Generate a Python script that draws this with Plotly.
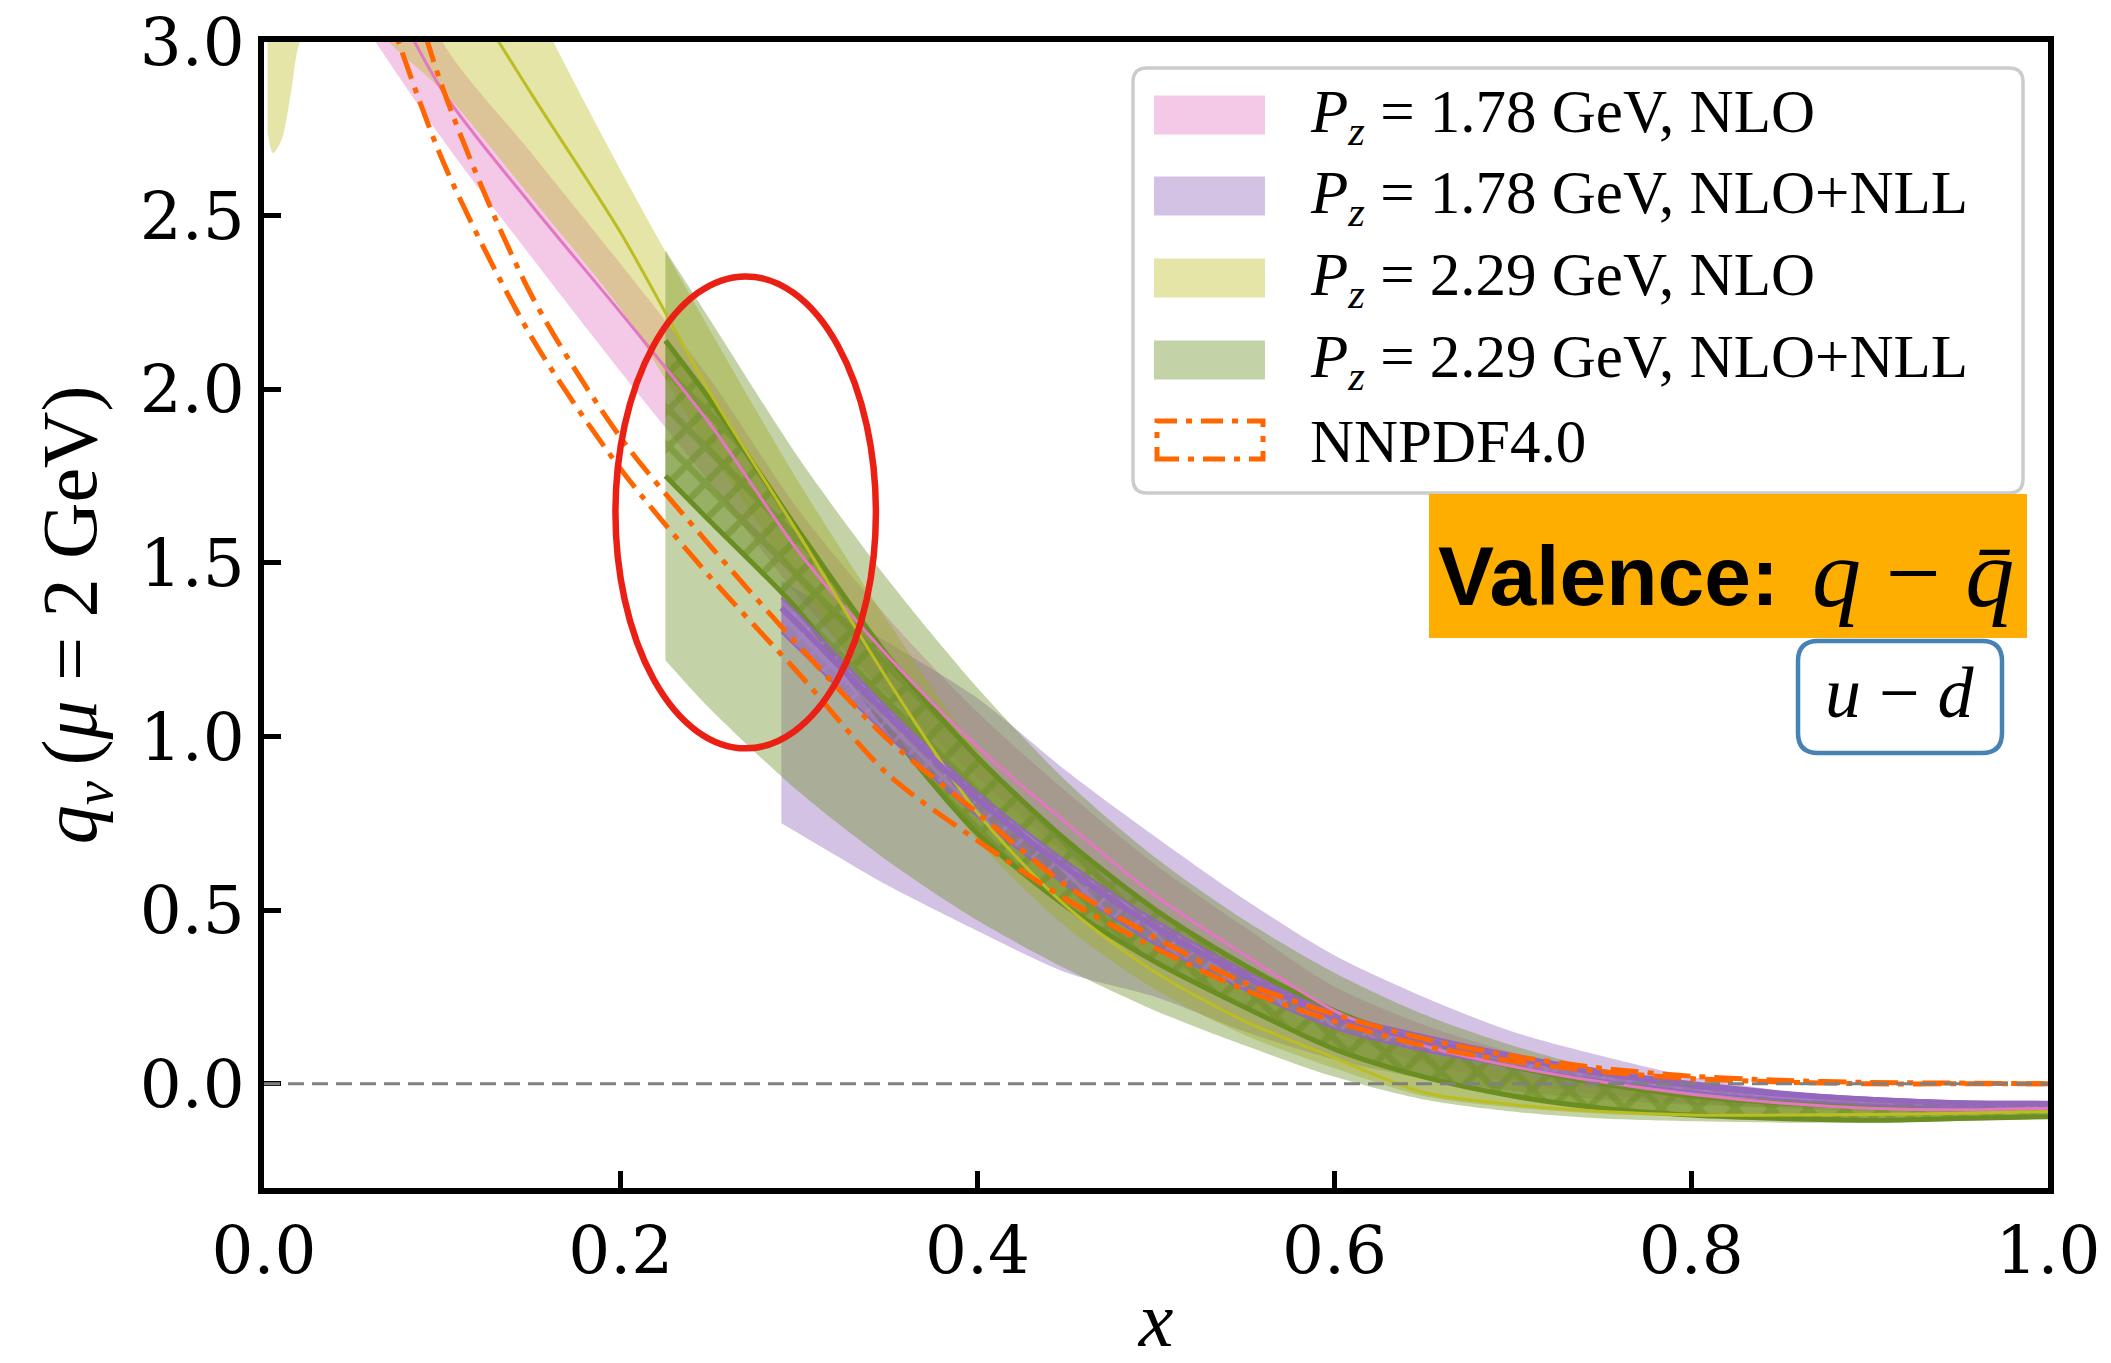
import plotly.graph_objects as go

# ---------------- data ----------------
X_GRID = [0.0, 0.05, 0.10, 0.15, 0.20, 0.25, 0.30, 0.35, 0.40, 0.45, 0.50,
          0.55, 0.60, 0.65, 0.70, 0.75, 0.80, 0.85, 0.90, 0.95, 1.00]

# P_z = 1.78 GeV, NLO (pink)
pink_mid = [3.90, 3.35, 2.86, 2.53, 2.22, 1.90, 1.53, 1.23, 0.97, 0.75, 0.54,
            0.37, 0.21, 0.11, 0.05, 0.005, -0.03, -0.055, -0.07, -0.075, -0.07]
pink_hi = [4.20, 3.60, 3.00, 2.68, 2.36, 2.03, 1.65, 1.34, 1.07, 0.84, 0.63,
           0.45, 0.28, 0.17, 0.09, 0.035, -0.01, -0.04, -0.055, -0.06, -0.06]
pink_lo = [3.55, 3.10, 2.72, 2.38, 2.05, 1.73, 1.40, 1.12, 0.88, 0.66, 0.46,
           0.30, 0.15, 0.06, 0.005, -0.03, -0.055, -0.07, -0.08, -0.085, -0.08]

# P_z = 2.29 GeV, NLO (olive)
X_OLIVE = [0.002, 0.005, 0.01, 0.015, 0.02, 0.04, 0.07, 0.10, 0.15, 0.20, 0.25,
           0.30, 0.35, 0.40, 0.45, 0.50, 0.55, 0.60, 0.65, 0.70, 0.75, 0.80,
           0.85, 0.90, 0.95, 1.00]
olive_mid = [3.60, 3.50, 3.50, 3.60, 3.70, 3.90, 3.60, 3.27, 2.85, 2.45, 1.99,
             1.58, 1.16, 0.78, 0.51, 0.32, 0.18, 0.075, -0.025, -0.06, -0.08,
             -0.09, -0.09, -0.088, -0.085, -0.08]
olive_hi = [4.50, 4.40, 4.40, 4.50, 4.60, 4.70, 4.30, 3.75, 3.13, 2.63, 2.17,
            1.73, 1.33, 0.96, 0.68, 0.47, 0.31, 0.19, 0.09, 0.03, -0.01,
            -0.035, -0.045, -0.05, -0.05, -0.05]
olive_lo = [2.74, 2.68, 2.72, 2.85, 3.00, 3.20, 3.00, 2.86, 2.55, 2.23, 1.82,
            1.44, 1.06, 0.70, 0.45, 0.27, 0.14, 0.045, -0.035, -0.068, -0.086,
            -0.095, -0.098, -0.097, -0.092, -0.088]

# P_z = 1.78 GeV, NLO+NLL (purple)
X_PURPLE = [0.29, 0.30, 0.35, 0.40, 0.45, 0.50, 0.55, 0.60, 0.65, 0.70, 0.75,
            0.80, 0.85, 0.90, 0.95, 1.00]
purple_hi = [1.45, 1.42, 1.27, 1.11, 0.90, 0.71, 0.53, 0.37, 0.25, 0.15, 0.08,
             0.02, -0.02, -0.045, -0.055, -0.055]
purple_lo = [0.75, 0.72, 0.57, 0.44, 0.32, 0.25, 0.15, 0.07, 0.015, -0.02,
             -0.045, -0.06, -0.068, -0.07, -0.07, -0.07]
purple_mid = [1.37, 1.32, 1.06, 0.82, 0.62, 0.45, 0.31, 0.19, 0.125, 0.075,
              0.03, -0.005, -0.03, -0.045, -0.055, -0.057]
purple_in_hi = [1.40, 1.35, 1.08, 0.84, 0.64, 0.47, 0.325, 0.205, 0.14, 0.085,
                0.04, 0.005, -0.022, -0.04, -0.05, -0.052]
purple_in_lo = [1.30, 1.25, 1.00, 0.77, 0.57, 0.40, 0.27, 0.16, 0.095, 0.05,
                0.01, -0.022, -0.045, -0.06, -0.068, -0.072]

# P_z = 2.29 GeV, NLO+NLL (green)
X_GREEN = [0.225, 0.25, 0.30, 0.35, 0.40, 0.45, 0.50, 0.55, 0.60, 0.65, 0.70,
           0.75, 0.80, 0.85, 0.90, 0.95, 1.00]
green_hi = [2.40, 2.20, 1.80, 1.45, 1.14, 0.87, 0.65, 0.47, 0.32, 0.20, 0.11,
            0.04, -0.01, -0.04, -0.05, -0.055, -0.055]
green_lo = [1.22, 1.08, 0.84, 0.64, 0.47, 0.33, 0.21, 0.11, 0.02, -0.045,
            -0.08, -0.10, -0.108, -0.112, -0.112, -0.107, -0.10]
green_in_hi = [2.14, 1.97, 1.59, 1.23, 0.94, 0.70, 0.50, 0.34, 0.21, 0.12, 0.05,
               0.0, -0.035, -0.055, -0.065, -0.065, -0.06]
green_in_lo = [1.75, 1.62, 1.36, 1.02, 0.72, 0.51, 0.35, 0.22, 0.10, 0.02,
               -0.035, -0.07, -0.09, -0.10, -0.105, -0.10, -0.095]

# NNPDF4.0 (upper / lower edges)
nnpdf_hi = [4.60, 3.75, 2.87, 2.27, 1.86, 1.55, 1.26, 0.99, 0.78, 0.57, 0.42,
            0.29, 0.20, 0.13, 0.08, 0.045, 0.022, 0.01, 0.004, 0.002, 0.0]
nnpdf_lo = [4.10, 3.38, 2.66, 2.15, 1.77, 1.46, 1.18, 0.89, 0.70, 0.53, 0.39,
            0.27, 0.18, 0.11, 0.065, 0.035, 0.015, 0.005, 0.0, 0.0, 0.0]

X_TICKS = [0.0, 0.2, 0.4, 0.6, 0.8, 1.0]
X_TICK_TEXT = ["0.0", "0.2", "0.4", "0.6", "0.8", "1.0"]
Y_TICKS = [0.0, 0.5, 1.0, 1.5, 2.0, 2.5, 3.0]
Y_TICK_TEXT = ["0.0", "0.5", "1.0", "1.5", "2.0", "2.5", "3.0"]

LEGEND_LABELS = [
    "<i>P</i><sub><i>z</i></sub> = 1.78 GeV, NLO",
    "<i>P</i><sub><i>z</i></sub> = 1.78 GeV, NLO+NLL",
    "<i>P</i><sub><i>z</i></sub> = 2.29 GeV, NLO",
    "<i>P</i><sub><i>z</i></sub> = 2.29 GeV, NLO+NLL",
    "NNPDF4.0",
]

# ---------------- styles ----------------
PINK = "rgb(227,119,194)"
PINK_F = "rgba(227,119,194,0.4)"
PURPLE = "rgb(148,103,189)"
PURPLE_F = "rgba(148,103,189,0.4)"
OLIVE = "rgb(188,189,34)"
OLIVE_F = "rgba(188,189,34,0.4)"
GREEN = "rgb(107,142,35)"
GREEN_F = "rgba(107,142,35,0.4)"
ORANGE = "rgb(255,102,0)"
SERIF = "Liberation Serif"
TICKFONT = "DejaVu Serif"

W, H = 2111, 1363
L, R, T, B = 264, 2048, 42, 1188  # plot area in pixels


def px(X):
    return (X - L) / (R - L)


def py(Y):
    return (B - Y) / (B - T)


fig = go.Figure()
SM = 0.8


def band(x, lo, hi, fill, name, edge=None, edgew=0, pattern=None):
    fig.add_trace(go.Scatter(
        x=x, y=lo, mode="lines", hoverinfo="skip", showlegend=False,
        line=dict(width=edgew, color=edge or "rgba(0,0,0,0)", shape="spline", smoothing=SM)))
    kw = {}
    if pattern is not None:
        kw["fillpattern"] = pattern
    fig.add_trace(go.Scatter(
        x=x, y=hi, mode="lines", fill="tonexty", fillcolor=fill, name=name,
        hoverinfo="skip", showlegend=False,
        line=dict(width=edgew, color=edge or "rgba(0,0,0,0)", shape="spline", smoothing=SM),
        **kw))


def curve(x, y, color, width, name, dash=None):
    fig.add_trace(go.Scatter(
        x=x, y=y, mode="lines", name=name, hoverinfo="skip", showlegend=False,
        line=dict(color=color, width=width, dash=dash, shape="spline", smoothing=SM)))


band(X_GRID, pink_lo, pink_hi, PINK_F, LEGEND_LABELS[0])
band(X_PURPLE, purple_lo, purple_hi, PURPLE_F, LEGEND_LABELS[1])
band(X_OLIVE, olive_lo, olive_hi, OLIVE_F, LEGEND_LABELS[2])
band(X_GREEN, green_lo, green_hi, GREEN_F, LEGEND_LABELS[3])
band(X_GREEN, green_in_lo, green_in_hi, "rgba(107,142,35,0.6)", LEGEND_LABELS[3],
     edge=GREEN, edgew=5,
     pattern=dict(shape="x", fgcolor=GREEN, bgcolor="rgba(107,142,35,0.5)",
                  size=26, solidity=0.45))
band(X_PURPLE, purple_in_lo, purple_in_hi, "rgba(148,103,189,0.6)", LEGEND_LABELS[1],
     edge=PURPLE, edgew=2,
     pattern=dict(shape="x", fgcolor="rgb(172,135,208)", bgcolor="rgba(148,103,189,0.65)",
                  size=20, solidity=0.3))
curve(X_GRID, pink_mid, PINK, 3, LEGEND_LABELS[0])
curve(X_OLIVE, olive_mid, OLIVE, 3, LEGEND_LABELS[2])
curve(X_PURPLE, purple_mid, PURPLE, 5.5, LEGEND_LABELS[1])
DASHDOT = "28px,9px,6px,9px"
curve(X_GRID, nnpdf_hi, ORANGE, 5, LEGEND_LABELS[4], dash=DASHDOT)
curve(X_GRID, nnpdf_lo, ORANGE, 5, LEGEND_LABELS[4], dash=DASHDOT)

shapes = []
annotations = []

# zero reference line
shapes.append(dict(type="line", xref="paper", yref="y", x0=0, x1=1, y0=0, y1=0,
                   line=dict(color="rgb(128,128,128)", width=3, dash="16px,8px"),
                   layer="above"))
# hand-drawn red ellipse
shapes.append(dict(type="circle", xref="x", yref="y", x0=0.197, x1=0.343,
                   y0=0.966, y1=2.325, line=dict(color="rgb(235,32,20)", width=6.5),
                   layer="above"))


def rounded(X0, Y0, X1, Y1, r):
    rx = r / (R - L)
    ry = r / (B - T)
    x0, x1 = px(X0), px(X1)
    y0, y1 = py(Y1), py(Y0)  # y0 bottom, y1 top in paper
    return (f"M{x0+rx},{y1} L{x1-rx},{y1} Q{x1},{y1} {x1},{y1-ry} "
            f"L{x1},{y0+ry} Q{x1},{y0} {x1-rx},{y0} L{x0+rx},{y0} "
            f"Q{x0},{y0} {x0},{y0+ry} L{x0},{y1-ry} Q{x0},{y1} {x0+rx},{y1} Z")


# legend frame
shapes.append(dict(type="path", xref="paper", yref="paper",
                   path=rounded(1133, 68, 2023, 493, 14),
                   fillcolor="rgba(255,255,255,0.85)",
                   line=dict(color="rgb(204,204,204)", width=3.5), layer="above"))
LEG_Y = [115, 196, 278, 360, 440]
LEG_FILLS = [PINK_F, PURPLE_F, OLIVE_F, GREEN_F]
for i, fc in enumerate(LEG_FILLS):
    shapes.append(dict(type="rect", xref="paper", yref="paper",
                       x0=px(1154), x1=px(1265), y0=py(LEG_Y[i] + 19.5), y1=py(LEG_Y[i] - 19.5),
                       fillcolor=fc, line=dict(width=0), layer="above"))
shapes.append(dict(type="rect", xref="paper", yref="paper",
                   x0=px(1157), x1=px(1263), y0=py(LEG_Y[4] + 19), y1=py(LEG_Y[4] - 19),
                   fillcolor="rgba(0,0,0,0)",
                   line=dict(color=ORANGE, width=5, dash="22px,9px,6px,9px"), layer="above"))
for i, lab in enumerate(LEGEND_LABELS):
    annotations.append(dict(xref="paper", yref="paper", x=px(1308), y=py(LEG_Y[i] + 1),
                            xanchor="left", yanchor="middle", showarrow=False, text=lab,
                            font=dict(family=SERIF, size=61, color="black")))

# "Valence" label box
shapes.append(dict(type="rect", xref="paper", yref="paper",
                   x0=px(1429), x1=px(2027), y0=py(638), y1=py(494),
                   fillcolor="rgb(253,174,0)", line=dict(width=0), layer="above"))
annotations.append(dict(xref="paper", yref="paper", x=px(1436), y=py(576),
                        xanchor="left", yanchor="middle", showarrow=False,
                        text="<b>Valence:</b>",
                        font=dict(family="Liberation Sans", size=84, color="black")))
annotations.append(dict(xref="paper", yref="paper", x=px(2016), y=py(573),
                        xanchor="right", yanchor="middle", showarrow=False,
                        text="<i>q</i> \u2212 <i>q\u0304</i>",
                        font=dict(family=SERIF, size=98, color="black")))

# "u - d" box
shapes.append(dict(type="path", xref="paper", yref="paper",
                   path=rounded(1798, 641, 2002, 753, 20),
                   fillcolor="white", line=dict(color="rgb(70,130,180)", width=4.5),
                   layer="above"))
annotations.append(dict(xref="paper", yref="paper", x=px(1900), y=py(693),
                        xanchor="center", yanchor="middle", showarrow=False,
                        text="<i>u</i> \u2212 <i>d</i>",
                        font=dict(family=SERIF, size=72, color="black")))

axis_common = dict(showline=True, linewidth=6, linecolor="black", mirror=True,
                   ticks="inside", ticklen=17, tickwidth=5, tickcolor="black",
                   showgrid=False, zeroline=False, automargin=False,
                   tickfont=dict(family=TICKFONT, size=66, color="black"))

fig.update_layout(
    width=W, height=H,
    margin=dict(l=L, r=W - R, t=T, b=H - B, autoexpand=False),
    paper_bgcolor="white", plot_bgcolor="white",
    showlegend=False,
    shapes=shapes, annotations=annotations,
    xaxis=dict(range=[0, 1], tickvals=X_TICKS, ticktext=X_TICK_TEXT,
               title=dict(text="<i>x</i>", font=dict(family=SERIF, size=78, color="black"),
                          standoff=16),
               **axis_common),
    yaxis=dict(range=[-0.3, 3.0], tickvals=Y_TICKS, ticktext=Y_TICK_TEXT,
               title=dict(text="<i>q</i><sub><i>v</i></sub>\u2009(<i>\u03bc</i> = 2 GeV)",
                          font=dict(family=SERIF, size=78, color="black"), standoff=20),
               **axis_common),
)

fig.write_html("out.html", config={"displayModeBar": False},
               post_script="document.body.style.margin='0';document.body.style.overflow='hidden';")
